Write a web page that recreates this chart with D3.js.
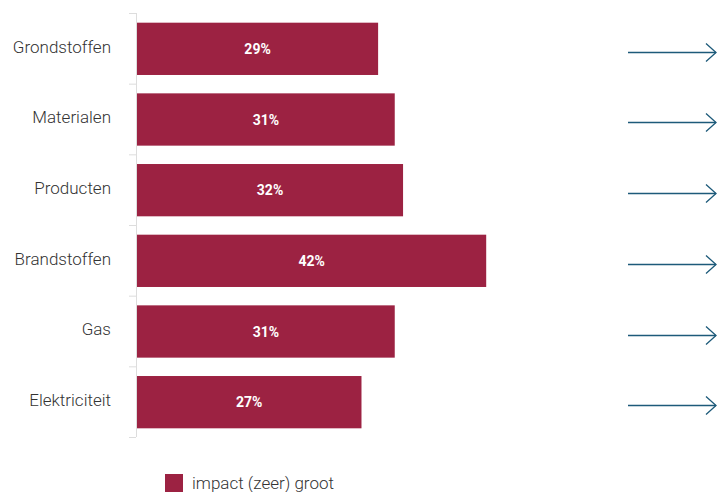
<!DOCTYPE html>
<html><head><meta charset="utf-8">
<script src="https://cdn.jsdelivr.net/npm/d3@7"></script>
<style>body{margin:0;background:#fff;} svg{display:block;font-family:Roboto, sans-serif;}</style>
</head><body>
<svg id="c" width="717" height="492"></svg>
<script>
const categories = ["Grondstoffen","Materialen","Producten","Brandstoffen","Gas","Elektriciteit"];
const values = [29,31,32,42,31,27];
const seriesName = "impact (zeer) groot";

const svg = d3.select("#c");
const x = d3.scaleLinear().domain([0,70]).range([137,719]);
const y = d3.scaleBand().domain(categories).range([13.5,437.5]).paddingInner(0.26).paddingOuter(0.13);
const barColor = "#9c2242";
const arrowColor = "#1d5a7a";

// axis
const ax = svg.append("g").attr("transform","translate(136,0)")
  .call(d3.axisLeft(y).tickSize(0).tickPadding(25));
ax.select(".domain").remove();
ax.selectAll("text").attr("font-size",17).attr("font-weight",300).attr("fill","#333")
  .attr("font-family","Roboto").attr("dy","0.22em");

// axis line & band-boundary ticks
svg.append("line").attr("x1",136.5).attr("x2",136.5).attr("y1",13).attr("y2",437).attr("stroke","#ddd");
const edges = d3.range(categories.length+1).map(i => 13.5 + i*y.step());
svg.selectAll(".tk").data(edges).join("line")
  .attr("x1",129).attr("x2",136).attr("y1",d=>d).attr("y2",d=>d).attr("stroke","#ddd");

// bars
svg.selectAll(".bar").data(values).join("rect")
  .attr("x",x(0)).attr("y",(d,i)=>y(categories[i]))
  .attr("width",d=>x(d)-x(0)).attr("height",y.bandwidth()).attr("fill",barColor);
svg.selectAll(".vl").data(values).join("text")
  .attr("x",d=>(x(0)+x(d))/2).attr("y",(d,i)=>y(categories[i])+y.bandwidth()/2)
  .attr("dy","0.38em").attr("text-anchor","middle").attr("fill","#fff")
  .attr("font-size",14).attr("font-weight",700).text(d=>d+"%");

// arrows
const ag = svg.selectAll(".ar").data(categories).join("g")
  .attr("transform",(d,i)=>`translate(0,${Math.round(y(d)+y.bandwidth()/2+3)+0.5})`);
ag.append("line").attr("x1",628).attr("x2",716).attr("y1",0).attr("y2",0).attr("stroke",arrowColor).attr("stroke-width",1.3);
ag.append("path").attr("d","M706,-9L716,0L706,9").attr("fill","none").attr("stroke",arrowColor).attr("stroke-width",1.3);

// legend
svg.append("rect").attr("x",165).attr("y",474).attr("width",18).attr("height",18).attr("fill",barColor);
svg.append("text").attr("x",192).attr("y",483).attr("dy","0.35em").attr("font-size",17).attr("font-weight",300).attr("fill","#333").text(seriesName);
</script>
</body></html>
